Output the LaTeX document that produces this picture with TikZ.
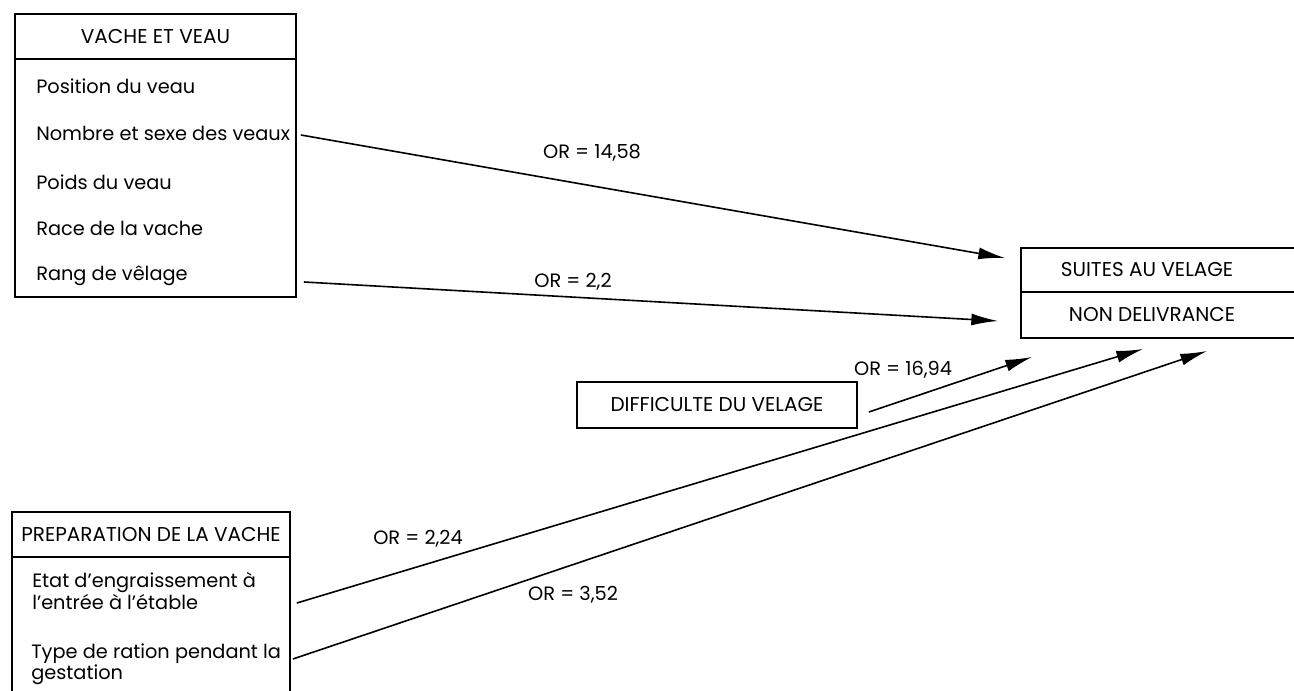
\documentclass[tikz,border=0pt]{standalone}
\usepackage{fontspec}
\setmainfont{Poppins}
\usepackage{tikz}
\usetikzlibrary{shapes,arrows,arrows.meta,positioning,calc}

\tikzset{
    boxpart/.style={draw, line width=1.3pt, inner sep=0pt},
    item/.style={anchor=west, inner sep=0pt, font=\fontsize{14.5}{16}\selectfont, align=left},
    headtxt/.style={inner sep=0pt, font=\fontsize{15}{17}\selectfont},
    orlab/.style={inner sep=0pt, font=\fontsize{14.5}{16}\selectfont},
    link/.style={line width=1.2pt, -{Latex[length=20pt,width=9pt]}}
}

\begin{document}
\begin{tikzpicture}[x=0.75pt, y=-0.75pt]
    \useasboundingbox (0,0) rectangle (1294,691);

    % Vache et veau
    \node[boxpart, minimum width=281*0.75pt, minimum height=45*0.75pt] (vvhead) at (155.5,36.5) {};
    \node[boxpart, minimum width=281*0.75pt, minimum height=238*0.75pt] (vvbody) at (155.5,178) {};
    \node[headtxt] at (vvhead) {VACHE ET VEAU};
    \node[item] (position) at (36,86) {Position du veau};
    \node[item] (nombre) at (36,133) {Nombre et sexe des veaux};
    \node[item] (poids) at (36,182) {Poids du veau};
    \node[item] (race) at (36,228) {Race de la vache};
    \node[item] (rang) at (36,276) {Rang de vêlage};

    % Suites au velage
    \node[boxpart, minimum width=279*0.75pt, minimum height=44*0.75pt] (suhead) at (1160.5,270) {};
    \node[boxpart, minimum width=279*0.75pt, minimum height=46*0.75pt] (subody) at (1160.5,315) {};
    \node[headtxt] (suites) at (1147,270) {SUITES AU VELAGE};
    \node[headtxt] (nondeliv) at (1152,315) {NON DELIVRANCE};

    % Difficulte du velage
    \node[boxpart, minimum width=280*0.75pt, minimum height=46*0.75pt] (diff) at (717,405) {};
    \node[headtxt] at (diff) {DIFFICULTE DU VELAGE};

    % Preparation de la vache
    \node[boxpart, minimum width=278*0.75pt, minimum height=45*0.75pt] (prephead) at (151,534.5) {};
    \node[boxpart, minimum width=278*0.75pt, minimum height=160*0.75pt] (prepbody) at (151,637) {};
    \node[headtxt] at (prephead) {PREPARATION DE LA VACHE};
    \node[item] (etat) at (32,591) {Etat d'engraissement à\\l'entrée à l'étable};
    \node[item] (ration) at (31,664) {Type de ration pendant la\\gestation};

    % arrow ends
    \coordinate (t1) at (1005,258);
    \coordinate (t2) at (998,321);
    \coordinate (t3) at (1032,357);
    \coordinate (t4) at (1143,349);
    \coordinate (t5) at (1207,351);

    \draw[link] ($(vvbody.east |- nombre)+(4,2)$) -- (t1);
    \draw[link] ($(vvbody.east |- rang)+(7,6)$) -- (t2);
    \draw[link] ($(diff.east)+(11,7)$) -- (t3);
    \draw[link] ($(prepbody.east |- etat)+(6,12)$) -- (t4);
    \draw[link] ($(prepbody.east |- ration)+(2,-5)$) -- (t5);

    % odds ratios
    \node[orlab] at (592,153) {OR = 14,58};
    \node[orlab] at (573,282) {OR = 2,2};
    \node[orlab] at (903,370) {OR = 16,94};
    \node[orlab] at (418,539) {OR = 2,24};
    \node[orlab] at (573,595) {OR = 3,52};
\end{tikzpicture}
\end{document}
